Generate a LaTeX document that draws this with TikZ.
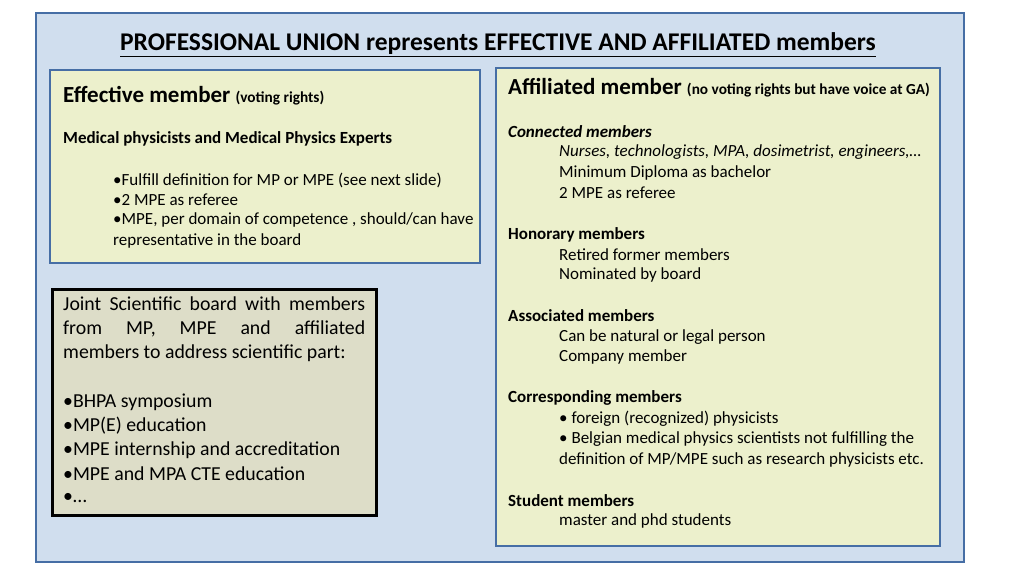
\documentclass[tikz,border=0pt]{standalone}
\usepackage{fontspec}
\setmainfont{Carlito}
\definecolor{bgblue}{RGB}{208,222,238}
\definecolor{bord}{RGB}{70,110,165}
\definecolor{pgreen}{RGB}{236,240,204}
\definecolor{pgray}{RGB}{221,221,200}
\tikzset{
 t/.style={anchor=west,inner sep=0pt,font=\fontsize{17}{20}\selectfont},
 tb/.style={t,font=\fontsize{17}{20}\selectfont\bfseries},
 ti/.style={t,font=\fontsize{17}{20}\selectfont\itshape},
 j/.style={anchor=west,inner sep=0pt,font=\fontsize{19.8}{24}\selectfont}
}
\begin{document}
\begin{tikzpicture}[x=1pt,y=-1pt]
\useasboundingbox (0,0) rectangle (1024,576);
\draw[bord,line width=2pt,fill=bgblue] (36,13) rectangle (964,562);
\node[anchor=center,inner sep=0pt,font=\fontsize{25.5}{28}\selectfont\bfseries] (title) at (498,45) {\underline{PROFESSIONAL UNION represents EFFECTIVE AND AFFILIATED members}};
\draw[bord,line width=1.5pt,fill=pgreen] (50,70) rectangle (480,263);
\draw[bord,line width=1.5pt,fill=pgreen] (496,68) rectangle (940,546);
\draw[black,line width=3pt,fill=pgray] (52,289) rectangle (376,515);
% left top
\node[t] (e1) at (63,96) {\fontsize{23}{26}\selectfont\bfseries Effective member \fontsize{15.3}{18}\selectfont (voting rights)};
\node[tb] (e2) at (63,139) {Medical physicists and Medical Physics Experts};
\node[t] (e3) at (113,180) {•Fulfill definition for MP or MPE (see next slide)};
\node[t] (e4) at (113,200) {•2 MPE as referee};
\node[t] (e5) at (113,220) {•MPE, per domain of competence , should/can have};
\node[t] (e6) at (113,241) {representative in the board};
% joint
\node[j,anchor=north west,text width=302pt,align=justify] (j1) at (63,297) {Joint Scientific board with members\linebreak from MP, MPE and affiliated\linebreak members to address scientific part:};
\node[j] (j4) at (63,402) {•BHPA symposium};
\node[j] (j5) at (63,426) {•MP(E) education};
\node[j] (j6) at (63,450) {•MPE internship and accreditation};
\node[j] (j7) at (63,474) {•MPE and MPA CTE education};
\node[j] (j8) at (63,498) {•…};
% right
\node[t] (a0) at (508,88) {\fontsize{23}{26}\selectfont\bfseries Affiliated member \fontsize{15.3}{18}\selectfont (no voting rights but have voice at GA)};
\node[t,font=\fontsize{17}{20}\selectfont\bfseries\itshape] (a1) at (508,132) {Connected members};
\node[ti] (a2) at (559,152) {Nurses, technologists, MPA, dosimetrist, engineers,…};
\node[t] (a3) at (559,173) {Minimum Diploma as bachelor};
\node[t] (a4) at (559,193) {2 MPE as referee};
\node[tb] (b1) at (508,235) {Honorary members};
\node[t] (b2) at (559,255) {Retired former members};
\node[t] (b3) at (559,275) {Nominated by board};
\node[tb] (c1) at (508,316) {Associated members};
\node[t] (c2) at (559,337) {Can be natural or legal person};
\node[t] (c3) at (559,357) {Company member};
\node[tb] (d1) at (508,398) {Corresponding members};
\node[t] (d2) at (559,419) {• foreign (recognized) physicists};
\node[t] (d3) at (559,439) {• Belgian medical physics scientists not fulfilling the};
\node[t] (d4) at (559,460) {definition of MP/MPE such as research physicists etc.};
\node[tb] (s1) at (508,501) {Student members};
\node[t] (s2) at (559,521) {master and phd students};
\end{tikzpicture}
\end{document}
